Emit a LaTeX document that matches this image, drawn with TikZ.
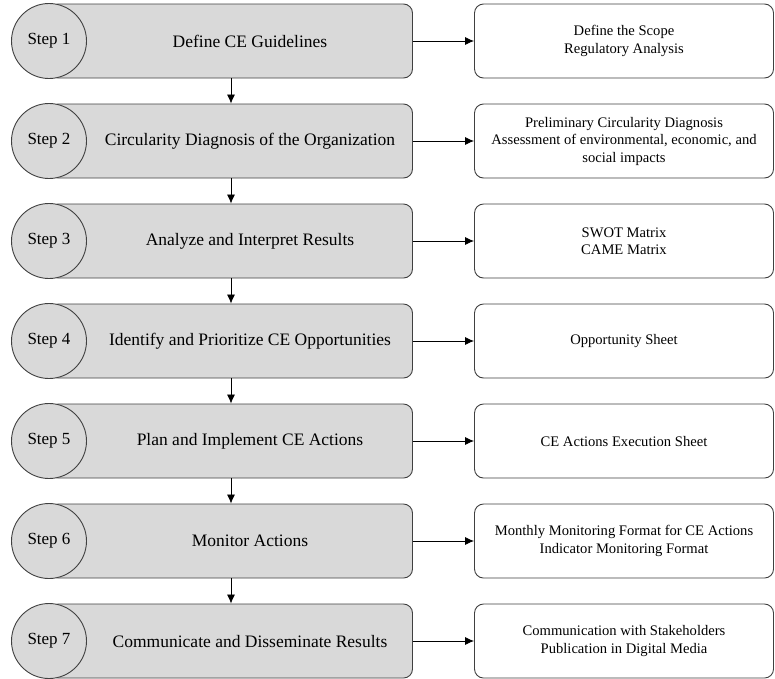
\documentclass[tikz,border=0pt]{standalone}
\usepackage{fontspec}
\setmainfont{Liberation Serif}
\usetikzlibrary{arrows.meta}

\tikzset{
  band/.style={draw=black!75, fill=black!15, line width=0.9pt, rounded corners=9pt,
    minimum width=363pt, minimum height=74pt, inner sep=0pt},
  stepcirc/.style={circle, draw=black!75, fill=black!15, line width=0.9pt,
    minimum size=75pt, inner sep=0pt, font=\fontsize{17}{20}\selectfont},
  bandtext/.style={font=\fontsize{17.5}{20}\selectfont, inner sep=0pt},
  infobox/.style={draw=black!75, fill=white, line width=0.9pt, rounded corners=9pt,
    minimum width=299pt, minimum height=74pt, align=center,
    font=\fontsize{14.6}{17.5}\selectfont},
  flow/.style={-{Latex[length=9pt,width=8pt]}, line width=0.8pt}
}

\begin{document}
\begin{tikzpicture}[x=1pt, y=-1pt]
\useasboundingbox (0,0) rectangle (775,678);

\foreach \i/\task/\info in {
  1/{Define CE Guidelines}/{Define the Scope\\Regulatory Analysis},
  2/{Circularity Diagnosis of the Organization}/{Preliminary Circularity Diagnosis\\Assessment of environmental, economic, and\\social impacts},
  3/{Analyze and Interpret Results}/{SWOT Matrix\\CAME Matrix},
  4/{Identify and Prioritize CE Opportunities}/{Opportunity Sheet},
  5/{Plan and Implement CE Actions}/{CE Actions Execution Sheet},
  6/{Monitor Actions}/{Monthly Monitoring Format for CE Actions\\Indicator Monitoring Format},
  7/{Communicate and Disseminate Results}/{Communication with Stakeholders\\Publication in Digital Media}}
{
  \pgfmathsetmacro{\yy}{41+100*(\i-1)}
  \node[band] (band\i) at (231,\yy) {};
  \node[stepcirc] (step\i) at (49,\yy) {Step \i};
  \node[bandtext] (task\i) at (250,\yy) {\task};
  \node[infobox] (info\i) at (624,\yy) {\info};
  \draw[flow] (band\i.east) -- (info\i.west);
}

% vertical flow between the steps
\foreach \i [evaluate=\i as \j using int(\i+1)] in {1,...,6}
{
  \draw[flow] (band\i.south) -- (band\j.north);
}
\end{tikzpicture}
\end{document}
